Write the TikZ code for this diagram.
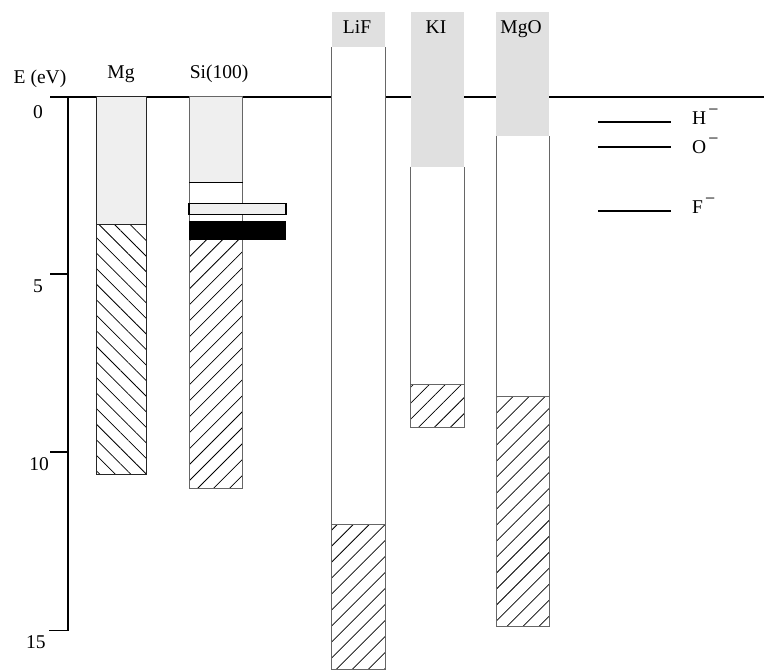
\documentclass[tikz,border=0pt]{standalone}
\usepackage{fontspec}
\setmainfont{Liberation Serif}
\usetikzlibrary{patterns.meta}
\definecolor{lightfill}{HTML}{EFEFEF}
\definecolor{labelfill}{HTML}{E0E0E0}
\definecolor{edge}{HTML}{666666}
\newcommand{\negsup}{\kern2pt\raisebox{0.45em}{\fontsize{18}{20}\selectfont −}}
\begin{document}
\begin{tikzpicture}[x=1pt,y=-1pt,
  lbl/.style={font=\fontsize{19.5}{22}\selectfont,inner sep=0pt,anchor=base},
  axisline/.style={line width=1.7pt,black},
  coledge/.style={line width=1pt,edge},
  hatchNE/.style={pattern={Lines[angle=45,distance=11.3pt,line width=0.75pt]}},
  hatchNW/.style={pattern={Lines[angle=-45,distance=11pt,line width=0.75pt]}},
  level/.style={line width=2.2pt,black}]
\useasboundingbox (0,0) rectangle (764,670);
% zero line and axis
\draw[axisline] (50,96.7) -- (764,96.7);
\draw[axisline] (68,96.7) -- (68,630.5) -- (49,630.5);
\draw[axisline] (50,274.3) -- (68,274.3);
\draw[axisline] (50,451.7) -- (68,451.7);
\node[lbl] (t0) at (38,118) {0};
\node[lbl] (t5) at (38,292.7) {5};
\node[lbl] (t10) at (39,470.5) {10};
\node[lbl] (t15) at (36,648) {15};
\node[lbl] (E) at (40,83) {E (eV)};
% Mg
\fill[lightfill] (96.7,96.7) rectangle (146.7,224.3);
\fill[hatchNW] (96.7,224.3) rectangle (146.7,474.3);
\draw[line width=1.1pt,black!85] (96.7,96.7) rectangle (146.7,474.3);
\draw[line width=1.1pt,black!85] (96.7,224.3) -- (146.7,224.3);
\node[lbl] (mg) at (121,78) {Mg};
% Si(100)
\fill[lightfill] (189,96.7) rectangle (242.7,182.3);
\fill[hatchNE] (189,240) rectangle (242.7,488.3);
\draw[coledge] (189,96.7) rectangle (242.7,488.3);
\draw[line width=1.1pt,black] (189,182.3) -- (242.7,182.3);
\draw[line width=1.1pt,black,fill=lightfill] (189,203.3) rectangle (286,214.3);
\fill[black] (189,220.7) rectangle (286,240);
\node[lbl] (si) at (219,78) {Si(100)};
% LiF
\fill[labelfill] (331.7,11.7) rectangle (385,47.3);
\fill[white] (331.7,47.3) rectangle (385,524);
\fill[hatchNE] (331.7,524) rectangle (385,669);
\draw[coledge] (331.7,47.3) -- (331.7,669) -- (385,669) -- (385,47.3);
\draw[coledge] (331.7,524) -- (385,524);
\node[lbl] (lif) at (357,33) {LiF};
% KI
\fill[labelfill] (410.7,11.7) rectangle (464,166.7);
\fill[white] (410.7,166.7) rectangle (464,384.3);
\fill[hatchNE] (410.7,384.3) rectangle (464,427.7);
\draw[coledge] (410.7,166.7) -- (410.7,427.7) -- (464,427.7) -- (464,166.7);
\draw[coledge] (410.7,384.3) -- (464,384.3);
\node[lbl] (ki) at (436,33) {KI};
% MgO
\fill[labelfill] (496,11.7) rectangle (549.3,136);
\fill[white] (496,136) rectangle (549.3,396.7);
\fill[hatchNE] (496,396.7) rectangle (549.3,626.7);
\draw[coledge] (496,136) -- (496,626.7) -- (549.3,626.7) -- (549.3,136);
\draw[coledge] (496,396.7) -- (549.3,396.7);
\node[lbl] (mgo) at (521,33) {MgO};
% ion levels
\coordinate (h1) at (598,121.7); \coordinate (h2) at (671,121.7);
\coordinate (o1) at (598,146.7); \coordinate (o2) at (671,146.7);
\coordinate (f1) at (598,210.7); \coordinate (f2) at (671,210.7);
\draw[level] (h1) -- (h2);
\draw[level] (o1) -- (o2);
\draw[level] (f1) -- (f2);
\node[lbl,anchor=base west] (H) at (692,124) {H\negsup};
\node[lbl,anchor=base west] (O) at (692,153.3) {O\negsup};
\node[lbl,anchor=base west] (F) at (692,213) {F\negsup};
\end{tikzpicture}
\end{document}
